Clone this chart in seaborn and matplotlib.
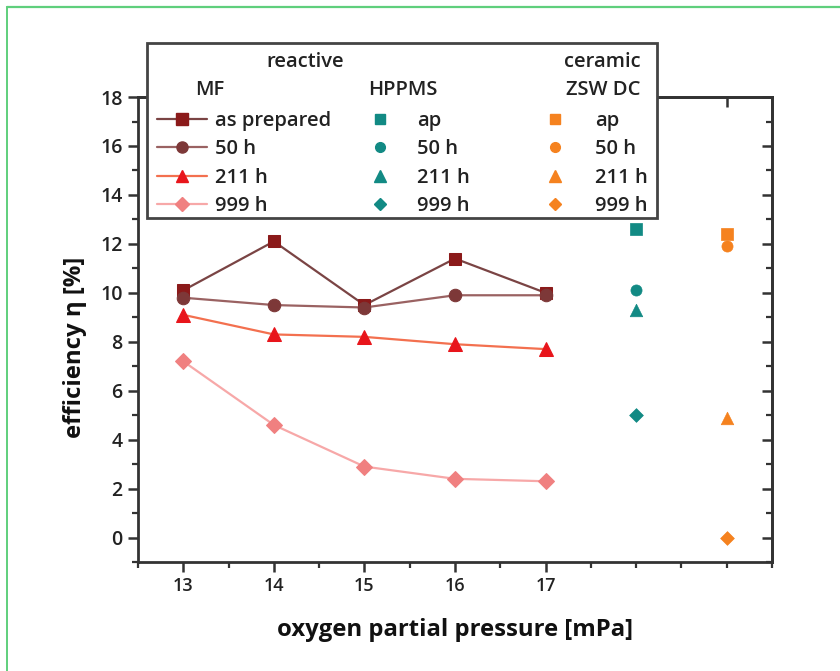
import numpy as np
import pandas as pd
import matplotlib
matplotlib.use("Agg")
import matplotlib.pyplot as plt
import seaborn as sns
from matplotlib.lines import Line2D
from matplotlib.patches import Rectangle
from matplotlib.ticker import MultipleLocator, FixedLocator, NullFormatter

# ---------------- data ----------------
pressure = [13, 14, 15, 16, 17]
mf_as_prepared = [10.1, 12.1, 9.5, 11.4, 10.0]
mf_50h = [9.8, 9.5, 9.4, 9.9, 9.9]
mf_211h = [9.1, 8.3, 8.2, 7.9, 7.7]
mf_999h = [7.2, 4.6, 2.9, 2.4, 2.3]

hppms_values = [12.6, 10.1, 9.3, 5.0]      # ap, 50 h, 211 h, 999 h
ceramic_values = [12.4, 11.9, 4.9, 0.0]    # ap, 50 h, 211 h, 999 h

mf_labels = ["as prepared", "50 h", "211 h", "999 h"]
short_labels = ["ap", "50 h", "211 h", "999 h"]
x_ticks = [13, 14, 15, 16, 17]

# layout constants
HPPMS_X = 18
CERAMIC_X = 19

# ---------------- styles ----------------
markers = ["s", "o", "^", "D"]
msizes = [9, 9, 10, 8]
mf_marker_colors = ["#8b1a1a", "#7d3838", "#e8151b", "#f08080"]
mf_line_colors = ["#7a4444", "#9a6262", "#f3704f", "#f7a8a8"]
teal = "#128a84"
orange = "#f5821f"

sns.set_style("ticks")
FONT = ["Open Sans", "DejaVu Sans"]
plt.rcParams["font.family"] = FONT

fig = plt.figure(figsize=(8.4, 6.71), dpi=100)
ax = fig.add_axes([0.1643, 0.1624, 0.919 - 0.1643, 0.8554 - 0.1624])

mf_series = [mf_as_prepared, mf_50h, mf_211h, mf_999h]
for vals, mk, ms, mc, lc in zip(mf_series, markers, msizes, mf_marker_colors, mf_line_colors):
    df = pd.DataFrame({"p": pressure, "eta": vals})
    sns.lineplot(data=df, x="p", y="eta", ax=ax, color=lc, linewidth=1.6,
                 marker=mk, markersize=ms, markerfacecolor=mc, markeredgecolor=mc,
                 zorder=3)

hp_df = pd.DataFrame({"x": [HPPMS_X] * 4, "eta": hppms_values, "m": short_labels})
ce_df = pd.DataFrame({"x": [CERAMIC_X] * 4, "eta": ceramic_values, "m": short_labels})
for df, col in [(hp_df, teal), (ce_df, orange)]:
    for i, lab in enumerate(short_labels):
        sub = df[df["m"] == lab]
        sns.scatterplot(data=sub, x="x", y="eta", ax=ax, color=col, marker=markers[i],
                        s=(msizes[i] - 1) ** 2, edgecolor=col, linewidth=0.5, zorder=3)

ax.set_xlim(12.5, 19.5)
ax.set_ylim(-1, 18)

# bottom ticks: labelled majors only at 13..17, halves minor
ax.xaxis.set_major_locator(FixedLocator(x_ticks))
ax.xaxis.set_minor_locator(FixedLocator([v for v in np.arange(12.5, 19.51, 0.5) if v not in x_ticks]))
ax.yaxis.set_major_locator(MultipleLocator(2))
ax.yaxis.set_minor_locator(MultipleLocator(1))

ax.tick_params(axis="both", which="major", direction="out", length=7, width=1.8, color="#333333")
ax.tick_params(axis="both", which="minor", direction="out", length=4, width=1.6, color="#333333")
ax.tick_params(axis="y", labelsize=14, pad=4)
ax.tick_params(axis="x", labelsize=13, pad=4)
for lbl in ax.get_xticklabels() + ax.get_yticklabels():
    lbl.set_fontweight("semibold")
    lbl.set_color("#222222")

for side in ["left", "bottom", "top", "right"]:
    ax.spines[side].set_visible(True)
    ax.spines[side].set_linewidth(2.0)
    ax.spines[side].set_color("#333333")

# inward ticks on top & right
secx = ax.secondary_xaxis("top")
secx.xaxis.set_major_locator(FixedLocator(list(range(13, 20))))
secx.tick_params(direction="in", length=7, width=1.8, color="#333333", labelsize=0)
secx.xaxis.set_major_formatter(NullFormatter())
secx.spines["top"].set_linewidth(2.0)
secx.spines["top"].set_color("#333333")
secy = ax.secondary_yaxis("right")
secy.yaxis.set_major_locator(MultipleLocator(2))
secy.yaxis.set_minor_locator(MultipleLocator(1))
secy.tick_params(which="major", direction="in", length=7, width=1.8, color="#333333")
secy.tick_params(which="minor", direction="in", length=4, width=1.6, color="#333333")
secy.yaxis.set_major_formatter(NullFormatter())
secy.spines["right"].set_linewidth(2.0)
secy.spines["right"].set_color("#333333")

ax.set_xlabel("oxygen partial pressure [mPa]", fontsize=17.2, fontweight="bold", labelpad=16, color="#111111")
ax.set_ylabel("efficiency η [%]", fontsize=17.2, fontweight="bold", color="#111111")
ax.yaxis.set_label_coords(-0.080, 0.462)

# ---------------- legend ----------------
frame = Rectangle((0.0142, 0.740), 0.8186 - 0.0142, 1.116 - 0.740, transform=ax.transAxes,
                  facecolor="white", edgecolor="#444444", linewidth=2.0, clip_on=False, zorder=8)
ax.add_patch(frame)

mf_handles = [Line2D([], [], color=lc, lw=1.6, marker=mk, markersize=ms - 1,
                     markerfacecolor=mc, markeredgecolor=mc)
              for mk, ms, mc, lc in zip(markers, msizes, mf_marker_colors, mf_line_colors)]
hp_handles = [Line2D([], [], ls="none", marker=mk, markersize=ms - 2, color=teal)
              for mk, ms in zip(markers, msizes)]
ce_handles = [Line2D([], [], ls="none", marker=mk, markersize=ms - 2, color=orange)
              for mk, ms in zip(markers, msizes)]

legend_kw = dict(frameon=False, loc="center left", borderpad=0, borderaxespad=0,
                 handlelength=2.5, labelspacing=0.41,
                 prop={"family": FONT, "size": 14.5, "weight": "semibold"})
legs = []
for handles, labels, x0, pad in [(mf_handles, mf_labels, 0.030, 0.4),
                                 (hp_handles, short_labels, 0.342, 0.6),
                                 (ce_handles, short_labels, 0.618, 0.75)]:
    lg = ax.legend(handles, labels, bbox_to_anchor=(x0, 0.857), handletextpad=pad, **legend_kw)
    for t in lg.get_texts():
        t.set_color("#222222")
    lg.set_zorder(9)
    legs.append(lg)
for lg in legs[:-1]:
    ax.add_artist(lg)

hdr = dict(transform=ax.transAxes, fontsize=14.5, fontweight="semibold", color="#222222",
           va="center", zorder=10, family=FONT)
ax.text(0.263, 1.075, "reactive", ha="center", **hdr)
ax.text(0.090, 1.015, "MF", ha="left", **hdr)
ax.text(0.363, 1.015, "HPPMS", ha="left", **hdr)
ax.text(0.793, 1.075, "ceramic", ha="right", **hdr)
ax.text(0.793, 1.015, "ZSW DC", ha="right", **hdr)

# green page frame (top and left edges)
fig.add_artist(Line2D([7 / 840, 7 / 840], [0, 1 - 7 / 671], transform=fig.transFigure,
                      color="#5fcf7c", lw=1.4))
fig.add_artist(Line2D([7 / 840, 1], [1 - 7 / 671, 1 - 7 / 671], transform=fig.transFigure,
                      color="#5fcf7c", lw=1.6))

fig.savefig("out.png", dpi=100)
